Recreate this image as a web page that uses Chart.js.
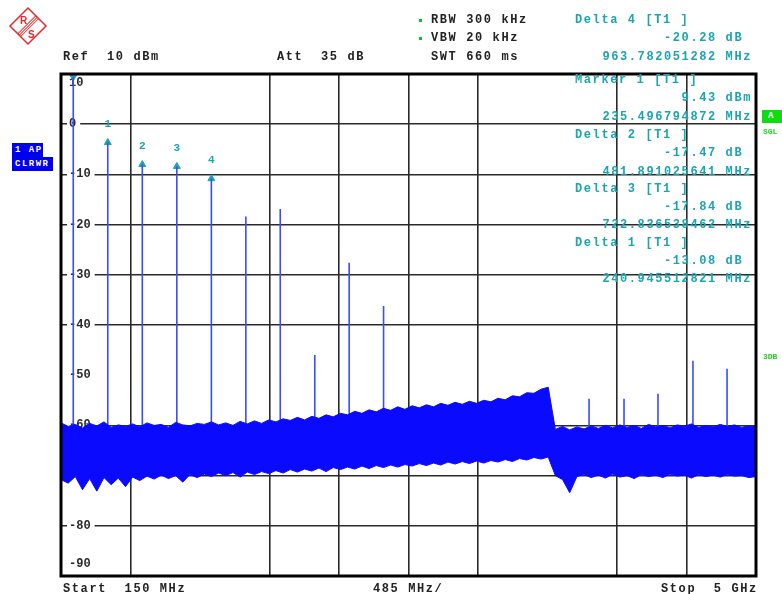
<!DOCTYPE html>
<html>
<head>
<meta charset="utf-8">
<script src="https://cdn.jsdelivr.net/npm/chart.js@4.4.1/dist/chart.umd.min.js"></script>
<style>
  body { margin: 0; background: #fff; }
  #wrap { position: relative; width: 782px; height: 594px; overflow: hidden; }
  #c { position: absolute; left: 0; top: 0; }
  .t { position: absolute; font: bold 12px "Liberation Mono", monospace; letter-spacing: 1.6px;
       line-height: 12px; white-space: pre; color: #222; }
  .m { color: #1ba5b0; }
  .r { text-align: right; right: 30px; }
  .dot { position: absolute; width: 3px; height: 3px; background: #10c020; left: 419px; }
  .box { position: absolute; background: #0000f0; color: #fff; font: bold 9px "Liberation Mono", monospace;
         letter-spacing: 1.5px; line-height: 14px; padding-left: 3px; left: 12px; }
  .g { position: absolute; font: bold 8px "Liberation Mono", monospace; color: #20d020; left: 763px; }
</style>
</head>
<body>
<div id="wrap">
  <canvas id="c" width="782" height="594"></canvas>

  <svg width="60" height="52" style="position:absolute;left:0;top:0">
    <defs>
      <pattern id="hatch" width="2" height="2" patternUnits="userSpaceOnUse" patternTransform="rotate(45)">
        <rect width="1" height="2" fill="#e8282c"/>
      </pattern>
    </defs>
    <polygon points="28,8 46,26 28,44 10,26" fill="none" stroke="#e8282c" stroke-width="1.5"/>
    <polygon points="17,33 35,15 39,19 21,37" fill="url(#hatch)"/>
    <text x="20" y="24" fill="#e8282c" font-family="Liberation Sans" font-weight="bold" font-size="10">R</text>
    <text x="28" y="38" fill="#e8282c" font-family="Liberation Sans" font-weight="bold" font-size="10">S</text>
  </svg>

  <div class="t" style="left:63px;top:51px">Ref  10 dBm</div>
  <div class="t" style="left:277px;top:51px">Att  35 dB</div>
  <div class="dot" style="top:19px"></div>
  <div class="t" style="left:431px;top:14px">RBW 300 kHz</div>
  <div class="dot" style="top:37px"></div>
  <div class="t" style="left:431px;top:32px">VBW 20 kHz</div>
  <div class="t" style="left:431px;top:51px">SWT 660 ms</div>

  <div class="t m" style="left:575px;top:14px">Delta 4 [T1 ]</div>
  <div class="t m r" style="top:32px">-20.28 dB </div>
  <div class="t m r" style="top:51px">963.782051282 MHz</div>
  <div class="t m" style="left:575px;top:74px">Marker 1 [T1 ]</div>
  <div class="t m r" style="top:92px">9.43 dBm</div>
  <div class="t m r" style="top:111px">235.496794872 MHz</div>
  <div class="t m" style="left:575px;top:129px">Delta 2 [T1 ]</div>
  <div class="t m r" style="top:147px">-17.47 dB </div>
  <div class="t m r" style="top:166px">481.891025641 MHz</div>
  <div class="t m" style="left:575px;top:183px">Delta 3 [T1 ]</div>
  <div class="t m r" style="top:201px">-17.84 dB </div>
  <div class="t m r" style="top:219px">722.836538462 MHz</div>
  <div class="t m" style="left:575px;top:237px">Delta 1 [T1 ]</div>
  <div class="t m r" style="top:255px">-13.08 dB </div>
  <div class="t m r" style="top:273px">240.945512821 MHz</div>

  <div class="t" style="left:63px;top:583px">Start  150 MHz</div>
  <div class="t" style="left:373px;top:583px">485 MHz/</div>
  <div class="t" style="left:661px;top:583px">Stop  5 GHz</div>

  <div class="box" style="top:143px;width:28px">1 AP</div>
  <div class="box" style="top:157px;width:38px">CLRWR</div>

  <div style="position:absolute;left:762px;top:110px;width:20px;height:13px;background:#10dd10;color:#fff;font:bold 9px 'Liberation Mono';line-height:13px;text-indent:6px">A</div>
  <div class="g" style="top:127px">SGL</div>
  <div class="g" style="top:352px">3DB</div>
</div>

<script>
// sweep settings
const fStart = 150, fStop = 5000, fSpan = 485;
const refLevel = 10, bottomLevel = -90;
const yTicks = [10, 0, -10, -20, -30, -40, -50, -60, -70, -80, -90];

// marker 1 and deltas (delta freq in MHz, delta level in dB)
const marker1Freq = 235.496794872;
const marker1Level = 9.43;
const deltaNames = ['1', '2', '3', '4'];
const deltaFreq = [240.945512821, 481.891025641, 722.836538462, 963.782051282];
const deltaLevel = [-13.08, -17.47, -17.84, -20.28];

// discrete spurs above the floor (MHz, dBm)
const spurFreq = [235.5, 476.4, 717.4, 958.3, 1199.3, 1440, 1680, 1921, 2161, 2401, 3835, 4079, 4316, 4560, 4798];
const spurPeak = [9.43, -3.65, -8.04, -8.41, -10.85, -18.4, -16.9, -46.0, -27.6, -36.2, -54.7, -54.7, -53.7, -47.1, -48.7];
const spurBase = -63;

// noise floor envelope read every 50 MHz from 150 MHz
const noiseStart = 150, noiseStep = 50;
const noiseTop = [
  -59.5, -60.2, -59.8, -60.5, -59.6, -60.1, -59.3, -60.4, -59.9, -60.2,
  -59.7, -60.3, -59.5, -60.0, -59.8, -60.4, -59.4, -59.9, -60.1, -59.6,
  -59.8, -59.3, -59.9, -59.5, -60.0, -59.2, -59.7, -59.1, -59.6, -58.9,
  -59.3, -58.7, -59.0, -58.4, -58.9, -58.2, -58.6, -57.9, -58.3, -57.6,
  -57.9, -57.2, -57.6, -56.9, -57.3, -56.6, -57.0, -56.3, -56.8, -56.1,
  -56.5, -55.9, -56.3, -55.6, -56.0, -55.4, -55.8, -55.2, -55.6, -55.0,
  -55.3, -54.6, -54.9, -54.1, -54.3, -53.5, -53.6, -52.8, -52.4,
  -60.8, -60.2, -60.9, -60.3, -60.7, -60.1, -60.6, -60.0, -60.5, -59.9,
  -60.4, -60.0, -60.6, -59.8, -60.3, -60.0, -60.5, -59.9, -60.2, -59.7,
  -60.4, -60.0, -60.3, -59.8, -60.2, -59.9, -60.4, -60.1, -60.3
];
const noiseBottom = [
  -70.8, -71.5, -70.2, -72.8, -70.6, -73.1, -70.4, -71.8, -70.5, -72.2,
  -70.3, -71.0, -70.1, -70.7, -69.9, -70.6, -70.0, -71.3, -69.8, -70.4,
  -69.7, -70.2, -69.5, -70.0, -69.4, -70.3, -69.3, -69.8, -69.2, -69.6,
  -69.0, -69.5, -68.8, -69.3, -68.7, -69.1, -68.5, -69.2, -68.4, -68.8,
  -68.3, -68.7, -68.1, -68.6, -68.0, -68.4, -67.9, -68.3, -67.8, -68.1,
  -67.6, -68.0, -67.5, -67.9, -67.3, -67.7, -67.2, -67.6, -67.1, -67.5,
  -67.0, -67.3, -66.8, -67.2, -66.6, -66.9, -66.4, -66.7, -66.3,
  -70.0, -70.8, -73.4, -70.2, -69.8, -70.4, -69.9, -70.5, -69.7, -70.3,
  -70.0, -70.6, -69.8, -70.2, -69.9, -70.4, -69.7, -70.1, -69.9, -70.5,
  -69.8, -70.2, -69.9, -70.3, -69.8, -70.1, -70.0, -70.4, -70.2
];

const TEAL = '#1ba5b0';
const BLUE = '#0a0aff';

const lowerPts = noiseTop.map((v, i) => ({x: noiseStart + i * noiseStep, y: noiseBottom[i]}));
const upperPts = noiseTop.map((v, i) => ({x: noiseStart + i * noiseStep, y: v}));

const spurPts = [];
spurFreq.forEach((f, i) => {
  spurPts.push({x: f, y: spurBase}, {x: f, y: spurPeak[i]}, {x: f, y: null});
});

const markerPts = [{x: marker1Freq, y: marker1Level}].concat(
  deltaFreq.map((d, i) => ({x: marker1Freq + d, y: marker1Level + deltaLevel[i]})));

const yLabelPlugin = {
  id: 'yLabels',
  beforeDatasetsDraw(chart) {
    const ctx = chart.ctx, y = chart.scales.y;
    ctx.save();
    ctx.font = 'bold 12px "Liberation Mono", monospace';
    ctx.textBaseline = 'middle';
    ctx.textAlign = 'left';
    yTicks.forEach(v => {
      let py = y.getPixelForValue(v);
      if (v === refLevel) py += 9;
      if (v === bottomLevel) py -= 12;
      const s = String(v);
      const w = ctx.measureText(s).width;
      ctx.fillStyle = '#fff';
      ctx.fillRect(67, py - 6, w + 6, 12);
      ctx.fillStyle = '#2a2a2a';
      ctx.fillText(s, 69, py);
    });
    ctx.restore();
  },
  afterDatasetsDraw(chart) {
    const ctx = chart.ctx, a = chart.chartArea, x = chart.scales.x, y = chart.scales.y;
    ctx.save();
    // marker numbers
    ctx.font = 'bold 11px "Liberation Mono", monospace';
    ctx.fillStyle = TEAL;
    ctx.textAlign = 'center';
    ctx.textBaseline = 'middle';
    deltaFreq.forEach((d, i) => {
      const px = x.getPixelForValue(marker1Freq + d);
      const py = y.getPixelForValue(marker1Level + deltaLevel[i]);
      ctx.fillText(deltaNames[i], px, py - 18);
    });
    // frame
    ctx.strokeStyle = '#000';
    ctx.lineWidth = 3;
    ctx.strokeRect(a.left, a.top, a.right - a.left, a.bottom - a.top);
    ctx.restore();
  }
};

new Chart(document.getElementById('c'), {
  type: 'line',
  data: {
    datasets: [
      {data: lowerPts, borderColor: BLUE, borderWidth: 1, pointRadius: 0, fill: false},
      {data: upperPts, borderColor: BLUE, borderWidth: 1, pointRadius: 0, fill: '-1', backgroundColor: BLUE},
      {data: spurPts, borderColor: '#3a4cff', borderWidth: 1.6, pointRadius: 0, spanGaps: false, fill: false},
      {type: 'scatter', data: markerPts, pointStyle: 'triangle', pointRadius: 4,
       pointRotation: [180, 0, 0, 0, 0], backgroundColor: TEAL, borderColor: TEAL, clip: false}
    ]
  },
  options: {
    responsive: false,
    animation: false,
    devicePixelRatio: 1,
    layout: {padding: {left: 61, top: 74, right: 26, bottom: 18}},
    plugins: {legend: {display: false}, tooltip: {enabled: false}},
    elements: {line: {tension: 0}},
    scales: {
      x: {
        type: 'linear', min: fStart, max: fStop, offset: false,
        ticks: {display: false, stepSize: fSpan},
        border: {display: false},
        grid: {drawTicks: false, lineWidth: 1.6,
               color: c => (c.index === 2 || c.index === 7) ? 'rgba(0,0,0,0)' : '#2a2a2a'}
      },
      y: {
        min: bottomLevel, max: refLevel,
        ticks: {display: false, stepSize: 10},
        border: {display: false},
        grid: {drawTicks: false, lineWidth: 1.6,
               color: c => (c.tick && c.tick.value === -50) ? 'rgba(0,0,0,0)' : '#2a2a2a'}
      }
    }
  },
  plugins: [yLabelPlugin]
});
</script>
</body>
</html>
